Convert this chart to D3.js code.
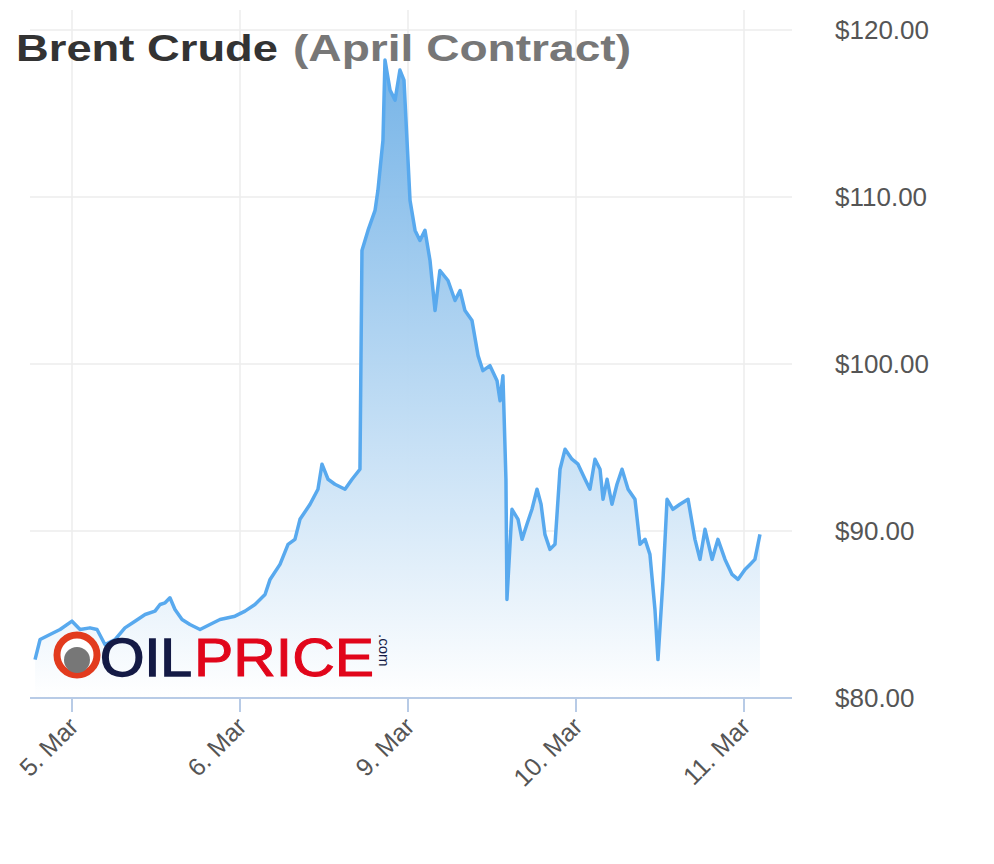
<!DOCTYPE html>
<html><head><meta charset="utf-8">
<script src="https://cdn.jsdelivr.net/npm/d3@7"></script>
<style>body{margin:0;background:#fff}</style></head>
<body><svg id="c" width="994" height="864"></svg>
<script>
// trading-day index (0 = 5. Mar) and price
var days = [-0.220,-0.190,-0.131,-0.071,0,0.048,0.107,0.149,0.196,0.256,0.315,0.375,0.435,0.494,0.524,0.554,0.583,0.613,0.655,0.702,0.762,0.821,0.881,0.970,1.030,1.089,1.149,1.179,1.238,1.286,1.327,1.357,1.417,1.464,1.488,1.524,1.565,1.625,1.667,1.714,1.726,1.762,1.804,1.821,1.851,1.863,1.893,1.923,1.952,1.976,2.012,2.042,2.071,2.101,2.131,2.161,2.190,2.238,2.280,2.310,2.339,2.381,2.417,2.446,2.488,2.530,2.548,2.565,2.583,2.589,2.619,2.655,2.679,2.708,2.738,2.768,2.792,2.815,2.845,2.875,2.905,2.935,2.976,3.012,3.054,3.083,3.113,3.143,3.161,3.185,3.214,3.244,3.274,3.310,3.351,3.381,3.411,3.440,3.470,3.488,3.518,3.542,3.577,3.619,3.667,3.708,3.738,3.768,3.810,3.845,3.887,3.929,3.964,4.006,4.036,4.065,4.095];
var prices = [82.3,83.5,83.8,84.1,84.6,84.1,84.2,84.1,83.2,83.5,84.2,84.6,85.0,85.2,85.6,85.7,86.0,85.3,84.7,84.4,84.1,84.4,84.7,84.9,85.2,85.6,86.2,87.1,88.0,89.2,89.5,90.7,91.6,92.5,94.0,93.1,92.8,92.5,93.1,93.7,106.8,108.0,109.2,110.4,113.4,118.2,116.4,115.8,117.6,117.0,109.8,108.0,107.4,108.0,106.2,103.2,105.6,105.0,103.8,104.4,103.2,102.6,100.5,99.6,99.9,99.0,97.8,99.3,93.1,85.9,91.3,90.7,89.5,90.4,91.3,92.5,91.6,89.8,88.9,89.2,93.7,94.9,94.3,94.0,93.1,92.5,94.3,93.7,91.9,93.1,91.6,92.8,93.7,92.5,91.9,89.2,89.5,88.6,85.3,82.3,87.1,91.9,91.3,91.6,91.9,89.5,88.3,90.1,88.3,89.5,88.3,87.4,87.1,87.7,88.0,88.3,89.8];
var tickDays = [0,1,2,3,4];
var tickLabels = ["5. Mar","6. Mar","9. Mar","10. Mar","11. Mar"];
var yTicks = [80,90,100,110,120];

var svg = d3.select("#c");
var L = 30, R = 792, T = 30, B = 698;
var x = d3.scaleLinear().domain([0,4]).range([72,744]);
var y = d3.scaleLinear().domain([80,120]).range([B,T]);
var data = days.map(function(d,i){return {d:d,v:prices[i]};});

var defs = svg.append("defs");
var g = defs.append("linearGradient").attr("id","fill").attr("x1",0).attr("y1",0).attr("x2",0).attr("y2",1);
g.append("stop").attr("offset","0%").attr("stop-color","#6fb0e6").attr("stop-opacity",0.95);
g.append("stop").attr("offset","100%").attr("stop-color","#ffffff").attr("stop-opacity",1);

// grid
svg.selectAll(".hg").data(yTicks.slice(1)).enter().append("line")
  .attr("x1",L).attr("x2",R).attr("y1",y).attr("y2",y).attr("stroke","#ececec").attr("stroke-width",1.5);
svg.selectAll(".vg").data(tickDays).enter().append("line")
  .attr("x1",x).attr("x2",x).attr("y1",T-20).attr("y2",B).attr("stroke","#ececec").attr("stroke-width",1.5);

var area = d3.area().x(function(d){return x(d.d);}).y0(B).y1(function(d){return y(d.v);});
var line = d3.line().x(function(d){return x(d.d);}).y(function(d){return y(d.v);});
svg.append("path").datum(data).attr("d",area).attr("fill","url(#fill)");
svg.append("path").datum(data).attr("d",line).attr("fill","none").attr("stroke","#58a9ee").attr("stroke-width",3.5).attr("stroke-linejoin","round");

// x axis
svg.append("line").attr("x1",L).attr("x2",R).attr("y1",B).attr("y2",B).attr("stroke","#b8cbe6").attr("stroke-width",2);
svg.selectAll(".xt").data(tickDays).enter().append("line")
  .attr("x1",x).attr("x2",x).attr("y1",B).attr("y2",B+14).attr("stroke","#b8cbe6").attr("stroke-width",2);
svg.selectAll(".xl").data(tickDays).enter().append("text")
  .attr("transform",function(d){return "translate("+(x(d)+8)+","+(B+30)+") rotate(-45)";})
  .attr("text-anchor","end").attr("font-family","Helvetica, Arial, sans-serif").attr("font-size",25).attr("fill","#555")
  .text(function(d,i){return tickLabels[i];});

// y labels
svg.selectAll(".yl").data(yTicks).enter().append("text")
  .attr("x",835).attr("y",function(d){return y(d)+9;})
  .attr("font-family","Helvetica, Arial, sans-serif").attr("font-size",26).attr("fill","#555")
  .text(function(d){return "$"+d.toFixed(2);});

// title
svg.append("text").attr("x",16).attr("y",61).attr("font-family","Helvetica, Arial, sans-serif").attr("font-size",37).attr("font-weight","bold")
  .attr("textLength",262).attr("lengthAdjust","spacingAndGlyphs").attr("fill","#333").text("Brent Crude");
svg.append("text").attr("x",293).attr("y",61).attr("font-family","Helvetica, Arial, sans-serif").attr("font-size",37).attr("font-weight","bold")
  .attr("textLength",338).attr("lengthAdjust","spacingAndGlyphs").attr("fill","#777").text("(April Contract)");

// logo
var lg = svg.append("g");
lg.append("circle").attr("cx",77).attr("cy",655).attr("r",20).attr("fill","#fff").attr("stroke","#e23b1e").attr("stroke-width",7);
lg.append("circle").attr("cx",77).attr("cy",660).attr("r",13).attr("fill","#777");
lg.append("text").attr("x",100).attr("y",676).attr("font-family","Arial, sans-serif").attr("font-size",54).attr("textLength",92).attr("lengthAdjust","spacingAndGlyphs").attr("fill","#141a45").attr("stroke","#141a45").attr("stroke-width",1.5).text("OIL");
lg.append("text").attr("x",194).attr("y",676).attr("font-family","Arial, sans-serif").attr("font-size",54).attr("textLength",180).attr("lengthAdjust","spacingAndGlyphs").attr("fill","#e1061b").attr("stroke","#e1061b").attr("stroke-width",1).text("PRICE");
lg.append("text").attr("transform","translate(379,634) rotate(90)").attr("font-family","Arial, sans-serif").attr("font-size",15).attr("fill","#141a45").text(".com");
</script></body></html>
